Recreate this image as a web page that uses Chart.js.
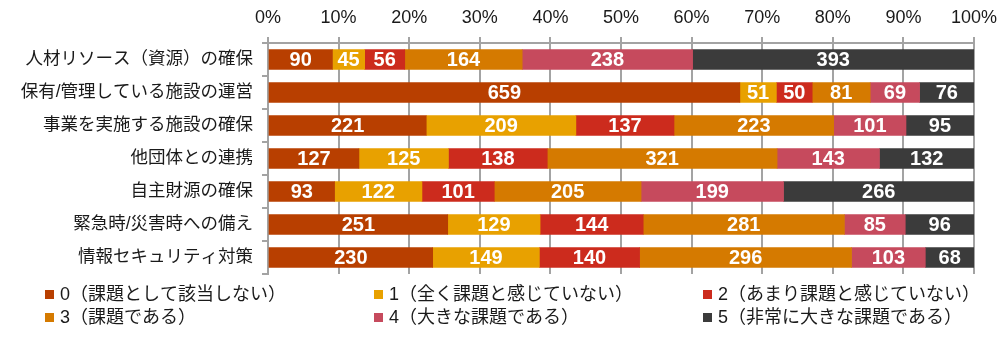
<!DOCTYPE html>
<html>
<head>
<meta charset="utf-8">
<script src="https://cdn.jsdelivr.net/npm/chart.js@4.4.1/dist/chart.umd.min.js"></script>
<style>
html,body{margin:0;padding:0;background:#fff;}
#wrap{width:1008px;height:338px;position:relative;}
</style>
</head>
<body>
<div id="wrap"><canvas id="c" width="1008" height="338"></canvas></div>
<script>
const categories = ['人材リソース（資源）の確保','保有/管理している施設の運営','事業を実施する施設の確保','他団体との連携','自主財源の確保','緊急時/災害時への備え','情報セキュリティ対策'];
const seriesNames = ['0（課題として該当しない）','1（全く課題と感じていない）','2（あまり課題と感じていない）','3（課題である）','4（大きな課題である）','5（非常に大きな課題である）'];
const s0 = [90, 659, 221, 127, 93, 251, 230];
const s1 = [45, 51, 209, 125, 122, 129, 149];
const s2 = [56, 50, 137, 138, 101, 144, 140];
const s3 = [164, 81, 223, 321, 205, 281, 296];
const s4 = [238, 69, 101, 143, 199, 85, 103];
const s5 = [393, 76, 95, 132, 266, 96, 68];
const tickValues = [0,10,20,30,40,50,60,70,80,90,100];

const colors = ['#B83F00','#E8A100','#CC2B1D','#D57A00','#C64A5D','#3B3B3B'];
const series = [s0,s1,s2,s3,s4,s5];
const totals = categories.map((_, i) => series.reduce((a, s) => a + s[i], 0));

const FONT = "'Liberation Sans', 'Noto Sans CJK JP', sans-serif";
const GRID = '#a3a3a3';

const datasets = series.map((s, k) => ({
  label: seriesNames[k],
  data: s.map((v, i) => v / totals[i] * 100),
  counts: s,
  backgroundColor: colors[k],
  borderWidth: 0,
  barThickness: 20
}));

const labelPlugin = {
  id: 'barLabels',
  afterDatasetsDraw(chart) {
    const ctx = chart.ctx;
    ctx.save();
    ctx.font = "bold 20px 'Liberation Sans', Arial, sans-serif";
    ctx.fillStyle = '#ffffff';
    ctx.textAlign = 'center';
    ctx.textBaseline = 'middle';
    chart.data.datasets.forEach((ds, di) => {
      const meta = chart.getDatasetMeta(di);
      meta.data.forEach((el, i) => {
        const p = el.getProps(['x','y','base'], true);
        const cx = (p.x + p.base) / 2;
        ctx.fillText(String(ds.counts[i]), cx, p.y + 1);
      });
    });
    ctx.restore();
  }
};

const legendPlugin = {
  id: 'gridLegend',
  afterDraw(chart) {
    const ctx = chart.ctx;
    const cols = [45, 374, 703];
    const rows = [294, 317];
    ctx.save();
    ctx.font = "18px " + FONT;
    ctx.textBaseline = 'middle';
    ctx.textAlign = 'left';
    chart.data.datasets.forEach((ds, k) => {
      const cx = cols[k % 3];
      const cy = rows[Math.floor(k / 3)];
      ctx.fillStyle = ds.backgroundColor;
      ctx.fillRect(cx, cy - 4, 9, 9);
      ctx.fillStyle = '#1a1a1a';
      ctx.fillText(ds.label, cx + 15, cy + 1);
    });
    ctx.restore();
  }
};

new Chart(document.getElementById('c'), {
  type: 'bar',
  data: { labels: categories, datasets },
  plugins: [labelPlugin, legendPlugin],
  options: {
    indexAxis: 'y',
    responsive: false,
    devicePixelRatio: 1,
    animation: false,
    layout: { padding: { left: 0, right: 34, top: 0, bottom: 64 } },
    plugins: { legend: { display: false }, tooltip: { enabled: false } },
    scales: {
      x: {
        position: 'top',
        stacked: true,
        min: 0, max: 100,
        afterBuildTicks: (s) => { s.ticks = tickValues.map(v => ({ value: v })); },
        afterFit: (s) => { s.height = 43; },
        ticks: {
          callback: (v) => v + '%',
          font: { family: "'Liberation Sans', Arial, sans-serif", size: 18 },
          color: '#1a1a1a',
          padding: 8,
          maxRotation: 0
        },
        grid: { color: GRID, lineWidth: 2, tickLength: 6, drawTicks: true },
        border: { display: true, color: GRID, width: 2 }
      },
      y: {
        stacked: true,
        afterFit: (s) => { s.width = 268; },
        ticks: {
          font: { family: FONT, size: 17.5 },
          color: '#1a1a1a',
          padding: 9
        },
        grid: { drawOnChartArea: false, drawTicks: true, tickLength: 6, offset: true, color: GRID, lineWidth: 2 },
        border: { display: true, color: GRID, width: 2 }
      }
    }
  }
});
</script>
</body>
</html>
